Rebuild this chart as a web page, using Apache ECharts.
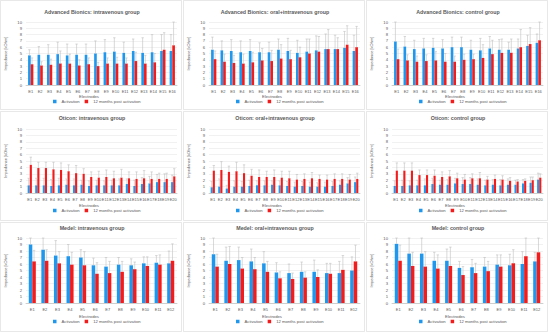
<!DOCTYPE html>
<html>
<head>
<meta charset="utf-8">
<script src="https://cdn.jsdelivr.net/npm/echarts@6/dist/echarts.min.js"></script>
<style>html,body{margin:0;padding:0;background:#fff;}#c{width:550px;height:334px;}</style>
</head>
<body>
<div id="c"></div>
<script>
// ---- Data ----
const panelTitles = [
  'Advanced Bionics: intravenous group', 'Advanced Bionics: oral+intravenous group', 'Advanced Bionics: control group',
  'Oticon: intravenous group', 'Oticon: oral+intravenous group', 'Oticon: control group',
  'Medel: intravenous group', 'Medel: oral+intravenous group', 'Medel: control group'
];
const seriesNames = ['Activation', '12 months post activation'];
const xAxisTitle = 'Electrodes';
const yAxisTitle = 'Impedance [kOhm]';
const yTicks = [0,1,2,3,4,5,6,7,8,9,10];

const abElectrodes = ['E1','E2','E3','E4','E5','E6','E7','E8','E9','E10','E11','E12','E13','E14','E15','E16'];
const otElectrodes = ['E1','E2','E3','E4','E5','E6','E7','E8','E9','E10','E11','E12','E13','E14','E15','E16','E17','E18','E19','E20'];
const mdElectrodes = ['E1','E2','E3','E4','E5','E6','E7','E8','E9','E10','E11','E12'];

// Advanced Bionics: intravenous
const abIvAct     = [4.7,4.8,4.8,4.9,4.7,4.8,4.8,5.0,5.2,5.3,5.1,5.4,5.1,5.2,5.4,5.4];
const abIvPost    = [3.3,3.1,3.2,3.4,3.4,3.1,3.3,3.0,3.4,3.4,3.4,3.8,3.4,3.6,5.6,6.3];
const abIvActHi   = [5.6,6.1,6.4,6.8,6.5,6.5,6.5,7.0,7.2,7.5,6.8,7.3,7.5,8.0,8.0,8.0];
const abIvPostHi  = [4.3,3.7,4.1,5.4,4.9,4.0,4.3,3.6,4.3,4.4,4.3,5.2,4.7,5.0,8.3,10.0];
// Advanced Bionics: oral+intravenous
const abOrAct     = [5.6,5.5,5.4,5.2,5.4,5.2,5.2,5.6,5.4,5.1,5.3,5.5,5.7,5.7,5.9,5.4];
const abOrPost    = [4.1,3.7,3.5,3.4,3.6,3.9,3.8,4.2,4.1,4.4,5.0,5.3,5.7,5.7,6.4,6.0];
const abOrActHi   = [7.6,7.0,7.2,7.0,7.2,6.7,6.8,7.3,7.4,7.1,7.3,7.8,8.1,7.9,8.5,7.9];
const abOrPostHi  = [5.4,4.9,4.7,4.9,5.2,5.8,5.5,6.4,5.5,6.0,7.3,7.7,8.8,7.5,9.4,9.3];
// Advanced Bionics: control
const abCoAct     = [6.9,6.1,5.7,5.8,5.9,5.8,6.0,6.0,5.6,5.5,5.8,5.6,5.6,5.8,6.2,6.7];
const abCoPost    = [4.1,3.9,3.7,3.8,3.9,3.7,3.7,4.0,4.1,4.3,4.9,5.1,5.1,6.0,6.5,7.1];
const abCoActHi   = [10.0,7.7,7.1,7.4,7.4,7.2,7.6,7.6,7.1,7.4,7.7,7.2,6.8,7.3,7.9,8.1];
const abCoPostHi  = [5.7,4.8,4.6,4.8,5.3,5.0,4.6,4.9,4.9,6.4,7.1,7.3,7.3,8.8,9.1,10.0];
// Oticon: intravenous
const otIvAct     = [1.2,1.2,1.2,1.1,1.2,1.3,1.2,1.3,1.1,1.2,1.2,1.2,1.2,1.4,1.1,1.4,1.5,1.7,1.7,1.7];
const otIvPost    = [4.4,3.9,3.9,3.7,3.6,3.4,3.1,3.0,2.5,2.4,2.5,2.3,2.4,2.3,2.2,2.3,2.2,2.2,2.2,2.6];
const otIvActHi   = [2.3,2.3,2.3,2.1,2.3,2.2,2.2,2.0,1.9,2.0,1.9,2.0,2.2,2.2,2.0,2.4,2.6,2.9,3.0,2.8];
const otIvPostHi  = [5.6,4.8,4.8,4.8,4.7,4.4,4.3,3.8,3.3,3.4,3.6,3.4,3.7,3.3,3.3,3.5,3.3,3.1,3.1,3.8];
// Oticon: oral+intravenous
const otOrAct     = [0.9,1.0,0.7,1.0,1.0,1.1,1.2,1.2,1.3,1.2,1.1,1.0,1.1,1.0,1.0,1.0,1.1,1.3,1.5,1.7];
const otOrPost    = [3.5,3.6,3.3,3.4,3.1,2.7,2.5,2.5,2.5,2.4,2.3,2.1,2.2,2.3,2.2,2.1,2.2,2.2,2.1,2.2];
const otOrActHi   = [1.8,2.2,1.2,1.9,1.8,2.0,1.9,1.9,1.9,1.9,1.8,1.7,1.8,1.7,1.6,1.7,1.8,1.9,2.4,2.5];
const otOrPostHi  = [4.3,4.9,4.2,4.8,4.4,3.7,3.6,3.4,3.6,3.4,3.4,2.9,3.0,3.2,2.8,2.8,3.0,3.0,2.9,3.1];
// Oticon: control
const otCoAct     = [1.1,1.1,1.2,1.2,1.2,1.4,1.3,1.3,1.5,1.4,1.4,1.3,1.2,1.3,1.2,1.3,1.3,1.5,1.6,2.1];
const otCoPost    = [3.5,3.5,3.5,2.8,2.8,2.7,2.5,2.6,2.3,2.1,2.3,2.3,2.1,2.2,2.1,1.9,1.8,1.9,2.0,2.4];
const otCoActHi   = [1.9,2.0,1.9,2.0,2.2,2.3,2.0,2.1,2.3,2.4,2.4,2.2,2.0,2.1,2.1,2.2,2.0,2.1,2.5,3.1];
const otCoPostHi  = [4.7,4.7,4.7,3.6,3.6,3.6,3.3,3.5,3.1,2.9,3.0,3.2,2.6,2.8,2.7,2.4,2.1,2.2,2.5,3.0];
// Medel: intravenous
const mdIvAct     = [9.0,8.2,7.3,7.2,7.0,5.8,5.6,5.9,5.8,6.1,6.2,6.1];
const mdIvPost    = [6.4,6.5,6.1,5.9,5.8,4.5,4.6,4.8,5.2,5.7,5.9,6.5];
const mdIvActHi   = [10.0,10.0,9.6,9.0,8.2,6.9,7.0,7.0,6.8,7.1,7.3,8.0];
const mdIvPostHi  = [8.1,8.2,7.9,7.8,7.9,6.2,6.4,6.4,6.3,7.1,7.4,9.1];
// Medel: oral+intravenous
const mdOrAct     = [7.5,6.5,6.6,6.4,6.1,4.7,4.6,4.8,4.8,4.6,4.6,5.0];
const mdOrPost    = [5.6,6.0,5.3,5.2,4.8,3.8,3.7,3.9,4.0,4.5,5.1,6.4];
const mdOrActHi   = [10.0,8.6,8.6,8.3,7.9,6.2,6.0,6.3,6.6,6.1,6.4,7.1];
const mdOrPostHi  = [7.5,8.7,7.0,7.0,6.4,4.8,4.6,4.8,5.1,6.1,7.3,8.9];
// Medel: control
const mdCoAct     = [9.1,7.6,7.6,6.5,6.5,5.4,5.5,5.6,5.9,5.8,6.0,6.4];
const mdCoPost    = [6.5,5.7,5.6,5.3,5.7,4.3,4.6,4.9,5.6,6.1,7.2,7.8];
const mdCoActHi   = [10.0,10.0,10.0,7.8,8.3,6.4,6.7,7.0,7.4,7.5,7.9,7.8];
const mdCoPostHi  = [8.9,7.8,7.9,7.4,8.6,5.6,6.1,6.4,7.4,8.2,10.0,10.0];

// ---- Layout / style ----
const panelData = [
  [abElectrodes, abIvAct, abIvPost, abIvActHi, abIvPostHi],
  [abElectrodes, abOrAct, abOrPost, abOrActHi, abOrPostHi],
  [abElectrodes, abCoAct, abCoPost, abCoActHi, abCoPostHi],
  [otElectrodes, otIvAct, otIvPost, otIvActHi, otIvPostHi],
  [otElectrodes, otOrAct, otOrPost, otOrActHi, otOrPostHi],
  [otElectrodes, otCoAct, otCoPost, otCoActHi, otCoPostHi],
  [mdElectrodes, mdIvAct, mdIvPost, mdIvActHi, mdIvPostHi],
  [mdElectrodes, mdOrAct, mdOrPost, mdOrActHi, mdOrPostHi],
  [mdElectrodes, mdCoAct, mdCoPost, mdCoActHi, mdCoPostHi]
];
const colX = [0, 183, 366];
const rowBox = [0, 111, 222];
const plotTop = [22, 129, 238];
const plotH = [63, 64, 65];
const titleY = [12, 118, 228];
const labelEl = [96, 205, 316];
const legendY = [102, 211, 322];
const BLUE = '#1f97ec', RED = '#f21c1c', GRAY = '#595959';
const CAT_GAP = 0.44;
const FONT = 'Liberation Sans, Arial, sans-serif';

const grids = [], xAxes = [], yAxes = [], series = [], legends = [], graphics = [];

function errorRenderer(side) {
  return function (params, api) {
    const idx = api.value(0), v = api.value(1), hi = api.value(2);
    const band = api.size([1, 0])[0];
    const bw = band * (1 - CAT_GAP) / 2;
    const p0 = api.coord([idx, v]);
    const p1 = api.coord([idx, hi]);
    const x = p0[0] + (side === 0 ? -bw / 2 : bw / 2);
    const cap = Math.max(1.2, bw * 0.35);
    const st = { stroke: '#bfbfbf', lineWidth: 0.6, fill: null };
    return {
      type: 'group',
      children: [
        { type: 'line', shape: { x1: x, y1: p0[1], x2: x, y2: p1[1] }, style: st },
        { type: 'line', shape: { x1: x - cap, y1: p1[1], x2: x + cap, y2: p1[1] }, style: st }
      ]
    };
  };
}

panelData.forEach((pd, i) => {
  const r = Math.floor(i / 3), c = i % 3;
  const cats = pd[0];
  const px = colX[c];
  grids.push({ left: px + 26, top: plotTop[r], width: 151, height: plotH[r], containLabel: false });
  xAxes.push({
    type: 'category', gridIndex: i, data: cats,
    axisLine: { lineStyle: { color: '#bfbfbf', width: 0.7 } },
    axisTick: { show: false },
    axisLabel: { interval: 0, fontSize: 4, color: GRAY, margin: 4, fontFamily: FONT }
  });
  yAxes.push({
    type: 'value', gridIndex: i, min: 0, max: 10, interval: 1,
    axisLine: { show: false }, axisTick: { show: false },
    axisLabel: { fontSize: 4.2, color: GRAY, margin: 4, fontFamily: FONT,
      formatter: v => (yTicks.indexOf(v) >= 0 ? String(v) : '') },
    splitLine: { lineStyle: { color: '#e3e3e3', width: 0.5 } },
    name: yAxisTitle, nameLocation: 'middle', nameRotate: 90, nameGap: 19,
    nameTextStyle: { fontSize: 4, color: GRAY, fontFamily: FONT }
  });
  series.push({ name: seriesNames[0], type: 'bar', xAxisIndex: i, yAxisIndex: i, data: pd[1],
    itemStyle: { color: BLUE }, barGap: '0%', barCategoryGap: (CAT_GAP * 100) + '%', z: 2 });
  series.push({ name: seriesNames[1], type: 'bar', xAxisIndex: i, yAxisIndex: i, data: pd[2],
    itemStyle: { color: RED }, barGap: '0%', barCategoryGap: (CAT_GAP * 100) + '%', z: 2 });
  series.push({ type: 'custom', xAxisIndex: i, yAxisIndex: i, renderItem: errorRenderer(0), z: 3,
    data: cats.map((_, k) => [k, pd[1][k], pd[3][k]]), silent: true });
  series.push({ type: 'custom', xAxisIndex: i, yAxisIndex: i, renderItem: errorRenderer(1), z: 3,
    data: cats.map((_, k) => [k, pd[2][k], pd[4][k]]), silent: true });
  legends.push({
    data: seriesNames, left: px + 53, top: legendY[r] - 2.5,
    itemWidth: 3.5, itemHeight: 3.5, itemGap: 5, icon: 'rect', padding: 0,
    textStyle: { fontSize: 4.2, color: GRAY, fontFamily: FONT }
  });
  graphics.push({ type: 'rect', shape: { x: px + 0.5, y: rowBox[r] + 0.5, width: 181, height: 109 },
    style: { fill: null, stroke: '#d9d9d9', lineWidth: 0.6 }, silent: true, z: -1 });
  graphics.push({ type: 'text', x: px + 92, y: titleY[r],
    style: { text: panelTitles[i], font: 'bold 5.3px ' + FONT, fill: GRAY, align: 'center', verticalAlign: 'middle' } });
  graphics.push({ type: 'text', x: px + 89, y: labelEl[r],
    style: { text: xAxisTitle, font: '4.2px ' + FONT, fill: GRAY, align: 'center', verticalAlign: 'middle' } });
});

const chart = echarts.init(document.getElementById('c'), null, { renderer: 'svg' });
chart.setOption({
  animation: false,
  backgroundColor: '#ffffff',
  grid: grids, xAxis: xAxes, yAxis: yAxes, legend: legends, series: series,
  graphic: { elements: graphics }
});
</script>
</body>
</html>
